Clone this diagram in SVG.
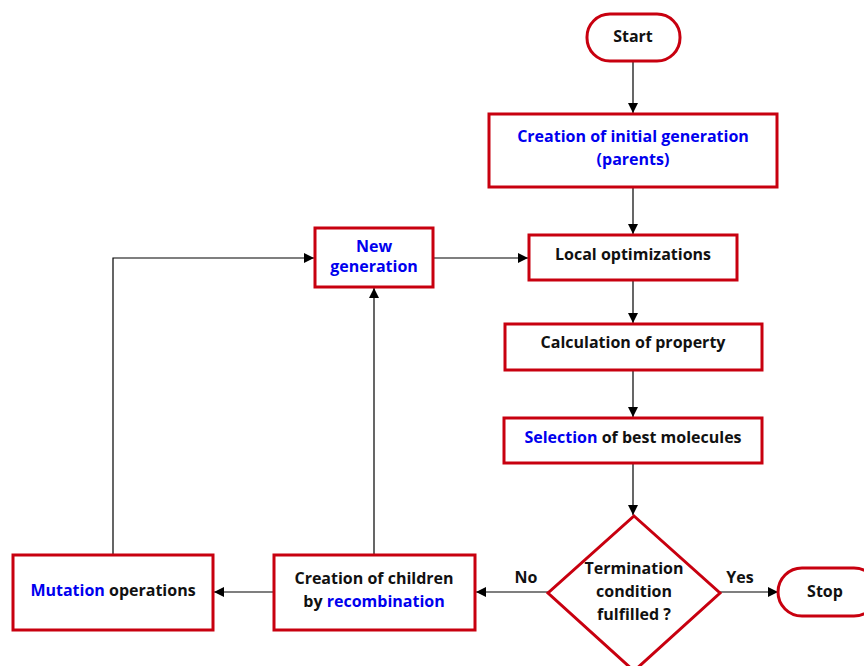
<svg xmlns="http://www.w3.org/2000/svg" width="864" height="666" viewBox="0 0 864 666">
<defs>
<style>
.n{fill:#fff;stroke:#c8000f;stroke-width:3}
.t{font-family:"Open Sans","Liberation Sans",sans-serif;font-weight:700;font-size:16px;fill:#111;text-anchor:middle}
.b{fill:#0000ee}
.c{fill:none;stroke:#000;stroke-width:1.2}
</style>
<marker id="a" viewBox="0 0 10 10" refX="10" refY="5" markerWidth="12" markerHeight="10" markerUnits="userSpaceOnUse" orient="auto"><path d="M0,0L10,5L0,10z" fill="#000"/></marker>
</defs>
<rect width="864" height="666" fill="#fff"/>
<g id="connectors">
<path class="c" d="M633,62V113" marker-end="url(#a)"/>
<path class="c" d="M633,188V234" marker-end="url(#a)"/>
<path class="c" d="M434,258H528" marker-end="url(#a)"/>
<path class="c" d="M633,281V323" marker-end="url(#a)"/>
<path class="c" d="M633,371V417" marker-end="url(#a)"/>
<path class="c" d="M633,464V515" marker-end="url(#a)"/>
<path class="c" d="M720,592H778" marker-end="url(#a)"/>
<path class="c" d="M548,592H476" marker-end="url(#a)"/>
<path class="c" d="M273,592H214" marker-end="url(#a)"/>
<path class="c" d="M113,554V258H314" marker-end="url(#a)"/>
<path class="c" d="M374,554V288" marker-end="url(#a)"/>
<text class="t" x="526" y="583">No</text>
<text class="t" x="740" y="583">Yes</text>
</g>
<g id="start"><rect class="n" x="587" y="14" width="93" height="47" rx="23"/><text class="t" x="633" y="42">Start</text></g>
<g id="init"><rect class="n" x="489" y="114" width="288" height="73"/><text class="t b" x="633" y="142">Creation of initial generation</text><text class="t b" x="633" y="165">(parents)</text></g>
<g id="newgen"><rect class="n" x="315" y="228" width="118" height="59"/><text class="t b" x="374" y="252">New</text><text class="t b" x="374" y="272">generation</text></g>
<g id="localopt"><rect class="n" x="529" y="235" width="208" height="45"/><text class="t" x="633" y="260">Local optimizations</text></g>
<g id="calc"><rect class="n" x="505" y="324" width="257" height="46"/><text class="t" x="633" y="348">Calculation of property</text></g>
<g id="select"><rect class="n" x="504" y="418" width="258" height="45"/><text class="t" x="633" y="443"><tspan class="b">Selection</tspan> of best molecules</text></g>
<g id="term"><path class="n" d="M634,516L720,593L634,671L548,593Z"/><text class="t" x="634" y="574">Termination</text><text class="t" x="634" y="597">condition</text><text class="t" x="634" y="620">fulfilled ?</text></g>
<g id="stop"><rect class="n" x="778" y="568" width="100" height="48" rx="24"/><text class="t" x="825" y="597">Stop</text></g>
<g id="children"><rect class="n" x="274" y="555" width="201" height="75"/><text class="t" x="374" y="584">Creation of children</text><text class="t" x="374" y="607">by <tspan class="b">recombination</tspan></text></g>
<g id="mutation"><rect class="n" x="13" y="555" width="200" height="75"/><text class="t" x="113" y="596"><tspan class="b">Mutation</tspan> operations</text></g>
</svg>
